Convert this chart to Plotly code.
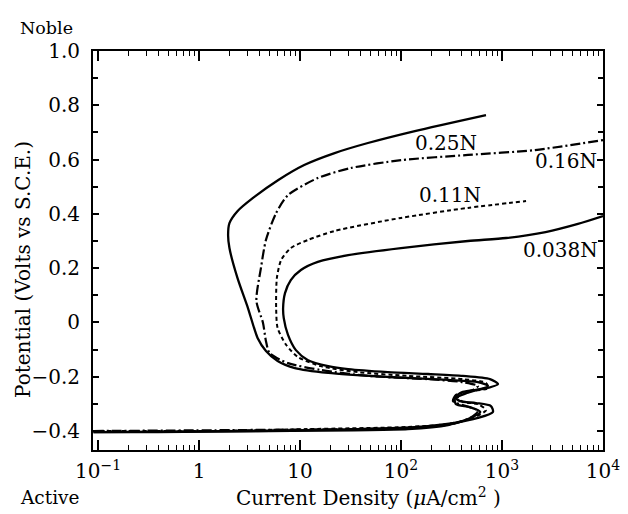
import math
import plotly.graph_objects as go

# ---- data (current density in uA/cm^2, potential in V vs SCE)
i_038 = [0.09, 0.39, 3.8, 37, 147, 327, 578, 813, 777, 552, 384, 342, 410, 649, 912, 760, 410, 185, 74, 30, 19, 12,
         9.1, 7.6, 6.9, 6.8, 7.1, 8.1, 10.2, 15, 30, 100, 460, 1100, 2700, 5650, 10000]
e_038 = [-0.404, -0.404, -0.400, -0.393, -0.385, -0.371, -0.352, -0.330, -0.308, -0.297, -0.290, -0.275, -0.256, -0.245,
         -0.227, -0.209, -0.197, -0.190, -0.183, -0.172, -0.161, -0.139, -0.102, -0.046, 0.016, 0.053, 0.108, 0.156,
         0.193, 0.223, 0.248, 0.274, 0.300, 0.311, 0.333, 0.363, 0.392]

i_11 = [0.09, 1.23, 12, 117, 292, 515, 694, 578, 410, 366, 460, 726, 694, 410, 117, 37, 16, 9.5, 7.3, 6.0, 5.8, 5.9,
        6.5, 8.1, 12, 22, 100, 460, 1730]
e_11 = [-0.400, -0.400, -0.393, -0.385, -0.374, -0.352, -0.323, -0.301, -0.293, -0.275, -0.256, -0.242, -0.223, -0.209,
        -0.197, -0.183, -0.161, -0.127, -0.083, -0.021, 0.053, 0.164, 0.230, 0.274, 0.304, 0.337, 0.385, 0.422, 0.447]

i_16 = [0.09, 3.8, 117, 327, 480, 578, 440, 327, 350, 515, 578, 410, 185, 47, 16, 7.6, 5.0, 4.6, 4.3, 3.7, 4.1, 4.6,
        5.8, 7.6, 15, 32, 100, 460, 2120, 10000]
e_16 = [-0.400, -0.396, -0.389, -0.374, -0.352, -0.326, -0.308, -0.290, -0.267, -0.249, -0.234, -0.220, -0.209, -0.197,
        -0.175, -0.150, -0.113, -0.069, -0.002, 0.079, 0.200, 0.304, 0.403, 0.469, 0.532, 0.569, 0.598, 0.617, 0.635,
        0.672]

i_25 = [0.09, 3.8, 117, 292, 460, 610, 480, 350, 342, 450, 726, 578, 292, 74, 19, 8.9, 6.0, 4.6, 3.8, 3.05, 2.4, 2.0,
        1.94, 2.0, 2.4, 3.4, 6.1, 11, 22, 47, 137, 694]
e_25 = [-0.404, -0.400, -0.393, -0.378, -0.356, -0.330, -0.312, -0.301, -0.279, -0.260, -0.234, -0.220, -0.212, -0.201,
        -0.186, -0.168, -0.142, -0.105, -0.057, 0.053, 0.164, 0.274, 0.322, 0.366, 0.410, 0.458, 0.525, 0.580, 0.624,
        0.661, 0.705, 0.764]

curve_names = ["0.25N", "0.16N", "0.11N", "0.038N"]
label_i = [280, 4300, 305, 3800]
label_e = [0.661, 0.595, 0.469, 0.267]

x_tickvals = [0.1, 1, 10, 100, 1000, 10000]
x_ticktext = ["10<sup>−1</sup>", "1", "10", "10<sup>2</sup>", "10<sup>3</sup>", "10<sup>4</sup>"]
y_tickvals = [-0.4, -0.2, 0, 0.2, 0.4, 0.6, 0.8, 1.0]
y_ticktext = ["−0.4", "−0.2", "0", "0.2", "0.4", "0.6", "0.8", "1.0"]

FONT = "DejaVu Serif"

fig = go.Figure()
fig.add_trace(go.Scatter(x=i_038, y=e_038, mode="lines", name=curve_names[3],
                         line=dict(color="black", width=2.3, shape="spline", smoothing=0.7)))
fig.add_trace(go.Scatter(x=i_11, y=e_11, mode="lines", name=curve_names[2],
                         line=dict(color="black", width=2, dash="4px,3px", shape="spline", smoothing=0.7)))
fig.add_trace(go.Scatter(x=i_16, y=e_16, mode="lines", name=curve_names[1],
                         line=dict(color="black", width=2.2, dash="10px,3px,2px,3px", shape="spline", smoothing=0.7)))
fig.add_trace(go.Scatter(x=i_25, y=e_25, mode="lines", name=curve_names[0],
                         line=dict(color="black", width=2.3, shape="spline", smoothing=0.7)))

# curve labels (annotations on a log axis take log10 positions)
for lx, ly, txt in zip(label_i, label_e, curve_names):
    fig.add_annotation(x=math.log10(lx), y=ly, xref="x", yref="y", text=txt, showarrow=False,
                       font=dict(family=FONT, size=20, color="black"), xanchor="center", yanchor="middle")

L, R, T, B, W, H = 85, 33, 43, 72, 628, 514
pw, ph = W - L - R, H - T - B


def px2paper(px, py):
    return (px - L) / pw, 1 - (py - T) / ph


side_texts = [("Noble", 38, 20, 17.5, 0), ("Active", 42, 489, 18.5, 0),
              ("Current Density (<i>μ</i>A/cm<sup>2</sup> )", 360, 489, 20, 0),
              ("Potential (Volts vs S.C.E.)", 15, 262, 20, -90)]
for txt, px, py, fs, ang in side_texts:
    ax_, ay_ = px2paper(px, py)
    fig.add_annotation(x=ax_, y=ay_, xref="paper", yref="paper", text=txt, textangle=ang, showarrow=False,
                       font=dict(family=FONT, size=fs, color="black"), xanchor="center", yanchor="middle")

fig.update_layout(
    width=W, height=H,
    margin=dict(l=L, r=R, t=T, b=B),
    paper_bgcolor="white", plot_bgcolor="white",
    showlegend=False,
    font=dict(family=FONT, size=20, color="black"),
    xaxis=dict(type="log", range=[-1.05, 4.0], tickmode="array", tickvals=x_tickvals, ticktext=x_ticktext,
               ticks="inside", ticklen=10, tickwidth=1.5, tickcolor="black",
               showline=True, linewidth=2, linecolor="black", mirror="ticks",
               showgrid=False, zeroline=False, ticklabelstandoff=2,
               tickfont=dict(family=FONT, size=20),
               minor=dict(ticks="inside", ticklen=5, tickwidth=1.2, tickcolor="black", dtick="D1", showgrid=False)),
    yaxis=dict(range=[-0.47, 1.0], tickmode="array", tickvals=y_tickvals, ticktext=y_ticktext,
               ticks="inside", ticklen=6, tickwidth=2, tickcolor="black",
               showline=True, linewidth=2, linecolor="black", mirror="ticks",
               showgrid=False, zeroline=False, ticklabelstandoff=7,
               tickfont=dict(family=FONT, size=20),
               minor=dict(ticks="inside", ticklen=5, tickwidth=2, tickcolor="black", dtick=0.1, showgrid=False)),
)

fig.write_html("out.html")
